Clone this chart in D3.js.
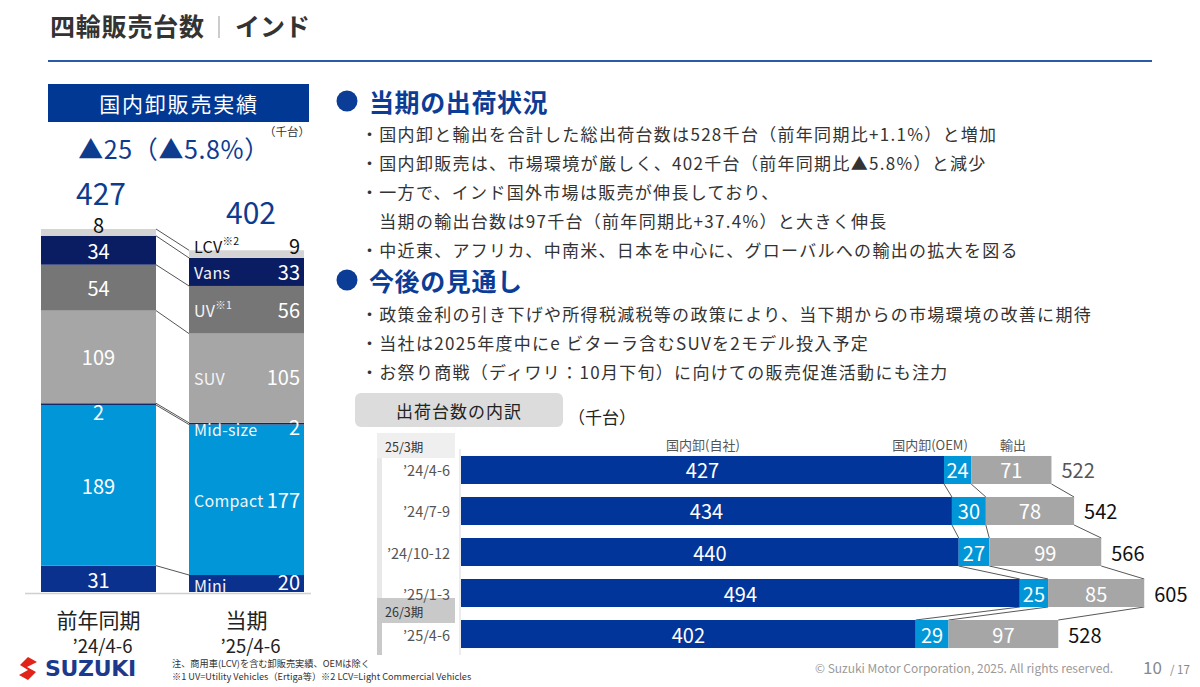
<!DOCTYPE html>
<html>
<head>
<meta charset="utf-8">
<script src="https://cdn.jsdelivr.net/npm/d3@7"></script>
<style>
  html, body { margin: 0; padding: 0; background: #fff; }
  svg { display: block; font-family: "Noto Sans CJK JP", "Noto Sans", sans-serif; }
</style>
</head>
<body>
<svg id="slide" width="1200" height="687"></svg>
<script>
// ---- data ----
var segNames  = ["Mini", "Compact", "Mid-size", "SUV", "UV", "Vans", "LCV"];
var segSup    = ["", "", "", "", "※1", "", "※2"];
var prevVals  = [31, 189, 2, 109, 54, 34, 8];
var currVals  = [20, 177, 2, 105, 56, 33, 9];
var segColors = ["#0b318e", "#0096d8", "#0c2566", "#a6a6a6", "#767676", "#0a1d63", "#d4d4d4"];
var periods   = ["前年同期", "当期"];
var periodSub = ["’24/4-6", "’25/4-6"];
var barTotals = [427, 402];

var quarters  = ["’24/4-6", "’24/7-9", "’24/10-12", "’25/1-3", "’25/4-6"];
var domOwn    = [427, 434, 440, 494, 402];
var domOem    = [24, 30, 27, 25, 29];
var exportVal = [71, 78, 99, 85, 97];
var shipTotal = [522, 542, 566, 605, 528];
var shipSeries = ["国内卸(自社)", "国内卸(OEM)", "輸出"];
var shipColors = ["#02359a", "#0096d8", "#a6a6a6"];

var bullets1 = [
  "・国内卸と輸出を合計した総出荷台数は528千台（前年同期比+1.1%）と増加",
  "・国内卸販売は、市場環境が厳しく、402千台（前年同期比▲5.8%）と減少",
  "・一方で、インド国外市場は販売が伸長しており、",
  "　当期の輸出台数は97千台（前年同期比+37.4%）と大きく伸長",
  "・中近東、アフリカ、中南米、日本を中心に、グローバルへの輸出の拡大を図る"
];
var bullets2 = [
  "・政策金利の引き下げや所得税減税等の政策により、当下期からの市場環境の改善に期待",
  "・当社は2025年度中にe ビターラ含むSUVを2モデル投入予定",
  "・お祭り商戦（ディワリ：10月下旬）に向けての販売促進活動にも注力"
];

var svg = d3.select("#slide");
var BLUE = "#0d3c8f";

// ---- title ----
svg.append("text").attr("x", 50).attr("y", 36).attr("font-size", 25).attr("font-weight", 700)
  .attr("letter-spacing", 0.8).attr("fill", "#333").text("四輪販売台数");
svg.append("line").attr("x1", 219).attr("x2", 219).attr("y1", 16).attr("y2", 38)
  .attr("stroke", "#999").attr("stroke-width", 1);
svg.append("text").attr("x", 235).attr("y", 36).attr("font-size", 25).attr("font-weight", 700)
  .attr("fill", "#333").text("インド");
svg.append("line").attr("x1", 48).attr("x2", 1152).attr("y1", 61).attr("y2", 61)
  .attr("stroke", "#2b5aa8").attr("stroke-width", 2);

// ---- left panel header ----
svg.append("rect").attr("x", 48).attr("y", 84).attr("width", 261).attr("height", 38).attr("fill", "#003894");
svg.append("text").attr("x", 179).attr("y", 103).attr("text-anchor", "middle").attr("dominant-baseline", "central")
  .attr("font-size", 21).attr("letter-spacing", 1.8).attr("fill", "#fff").text("国内卸販売実績");
svg.append("text").attr("x", 174).attr("y", 148).attr("text-anchor", "middle").attr("dominant-baseline", "central")
  .attr("font-size", 25).attr("letter-spacing", 0.6).attr("fill", BLUE).text("▲25（▲5.8%）");
svg.append("text").attr("x", 264).attr("y", 131).attr("dominant-baseline", "central")
  .attr("font-size", 11.5).attr("fill", "#333").text("（千台）");

// ---- left stacked bars ----
var yL = d3.scaleLinear().domain([0, 427]).range([592, 229]);
var barX = [41, 189], barW = 115;
var stacks = [prevVals, currVals].map(function(v) {
  var c = 0;
  return v.map(function(d, i) { var s = { i: i, v: d, y0: c, y1: c + d }; c += d; return s; });
});

var gL = svg.append("g");
stacks.forEach(function(st, b) {
  gL.selectAll(null).data(st).enter().append("rect")
    .attr("x", barX[b]).attr("width", barW)
    .attr("y", function(d) { return yL(d.y1); })
    .attr("height", function(d) { return yL(d.y0) - yL(d.y1); })
    .attr("fill", function(d) { return segColors[d.i]; });
});

// connectors between the two bars
var bounds = d3.range(segNames.length).map(function(i) { return [stacks[0][i].y1, stacks[1][i].y1]; });
gL.selectAll(null).data(bounds).enter().append("line")
  .attr("x1", barX[0] + barW).attr("x2", barX[1])
  .attr("y1", function(d) { return yL(d[0]); }).attr("y2", function(d) { return yL(d[1]); })
  .attr("stroke", "#555").attr("stroke-width", 1);

svg.append("line").attr("x1", 25).attr("x2", 311).attr("y1", 593.5).attr("y2", 593.5)
  .attr("stroke", "#d0d0d0").attr("stroke-width", 1.5);

// previous year labels (centered)
var dyPrev = [1, 0, 7, 0, 0, 0, -7];
gL.selectAll(null).data(stacks[0]).enter().append("text")
  .attr("x", barX[0] + barW / 2)
  .attr("y", function(d) { return d.i === 6 ? yL(d.y1) - 5 : (yL(d.y0) + yL(d.y1)) / 2 + dyPrev[d.i]; })
  .attr("text-anchor", "middle").attr("dominant-baseline", "central")
  .attr("font-size", 20).attr("fill", function(d) { return d.i === 6 ? "#111" : "#fff"; })
  .text(function(d) { return d.v; });

// current period labels (name left, value right)
var dyCurr = [-2, 0, 3, -2, 0, 0, -9];
var dyCurrName = [2, 0, 5, 0, 0, 0, -8];
gL.selectAll(null).data(stacks[1]).enter().append("text")
  .attr("x", barX[1] + barW - 4)
  .attr("y", function(d) { return (yL(d.y0) + yL(d.y1)) / 2 + dyCurr[d.i]; })
  .attr("text-anchor", "end").attr("dominant-baseline", "central")
  .attr("font-size", 20).attr("fill", function(d) { return d.i === 6 ? "#111" : "#fff"; })
  .text(function(d) { return d.v; });
var nameT = gL.selectAll(null).data(stacks[1]).enter().append("text")
  .attr("x", barX[1] + 5)
  .attr("y", function(d) { return (yL(d.y0) + yL(d.y1)) / 2 + dyCurrName[d.i]; })
  .attr("dominant-baseline", "central").attr("letter-spacing", 0.3)
  .attr("font-size", 16).attr("fill", function(d) { return d.i === 6 ? "#111" : "#f4f4f4"; });
nameT.append("tspan").text(function(d) { return segNames[d.i]; });
nameT.append("tspan").attr("font-size", 10.5).attr("dy", -6).text(function(d) { return segSup[d.i]; });

// totals and period labels
gL.selectAll(null).data(barTotals).enter().append("text")
  .attr("x", function(d, i) { return i === 0 ? 101 : 251; })
  .attr("y", function(d, i) { return i === 0 ? 192 : 211; })
  .attr("text-anchor", "middle").attr("dominant-baseline", "central")
  .attr("font-size", 30).attr("fill", BLUE).text(function(d) { return d; });
gL.selectAll(null).data(periods).enter().append("text")
  .attr("x", function(d, i) { return barX[i] + barW / 2; }).attr("y", 619)
  .attr("text-anchor", "middle").attr("dominant-baseline", "central")
  .attr("font-size", 21).attr("fill", "#222").text(function(d) { return d; });
gL.selectAll(null).data(periodSub).enter().append("text")
  .attr("x", function(d, i) { return barX[i] + barW / 2 + 4; }).attr("y", 645)
  .attr("text-anchor", "middle").attr("dominant-baseline", "central")
  .attr("font-size", 18.5).attr("fill", "#222").text(function(d) { return d; });

// ---- right text block ----
function heading(y, txt) {
  svg.append("circle").attr("cx", 347).attr("cy", y).attr("r", 10.5).attr("fill", "#0b3d96");
  svg.append("text").attr("x", 369).attr("y", y).attr("dominant-baseline", "central")
    .attr("font-size", 25).attr("font-weight", 700).attr("letter-spacing", 0.6)
    .attr("fill", "#0b3d96").text(txt);
}
heading(101, "当期の出荷状況");
heading(280, "今後の見通し");
svg.selectAll(null).data(bullets1).enter().append("text")
  .attr("x", 361).attr("y", function(d, i) { return 133 + i * 29; })
  .attr("dominant-baseline", "central").attr("font-size", 17).attr("letter-spacing", 1.3)
  .attr("fill", "#333").text(function(d) { return d; });
svg.selectAll(null).data(bullets2).enter().append("text")
  .attr("x", 361).attr("y", function(d, i) { return 313 + i * 29; })
  .attr("dominant-baseline", "central").attr("font-size", 17).attr("letter-spacing", 1.3)
  .attr("fill", "#333").text(function(d) { return d; });

// ---- shipment breakdown ----
svg.append("rect").attr("x", 355).attr("y", 393).attr("width", 208).attr("height", 34).attr("rx", 6).attr("fill", "#dcdcdc");
svg.append("text").attr("x", 459).attr("y", 410).attr("text-anchor", "middle").attr("dominant-baseline", "central")
  .attr("font-size", 17).attr("letter-spacing", 1).attr("fill", "#222").text("出荷台数の内訳");
svg.append("text").attr("x", 568).attr("y", 416).attr("dominant-baseline", "central")
  .attr("font-size", 17).attr("fill", "#222").text("（千台）");

var x = d3.scaleLinear().domain([0, 427]).range([461, 944]);
var y = d3.scaleBand().domain(quarters).range([449.5, 654.5]).paddingInner(0.317).paddingOuter(0.158);

// fiscal-year side panel
svg.append("rect").attr("x", 377).attr("y", 458).attr("width", 5).attr("height", 140).attr("fill", "#e8e8e8");
svg.append("rect").attr("x", 377).attr("y", 623).attr("width", 5).attr("height", 32).attr("fill", "#c9c9c9");
svg.append("rect").attr("x", 377).attr("y", 433).attr("width", 78).attr("height", 25).attr("fill", "#efefef");
svg.append("rect").attr("x", 377).attr("y", 598).attr("width", 78).attr("height", 25).attr("fill", "#c9c9c9");
svg.append("text").attr("x", 385).attr("y", 446).attr("dominant-baseline", "central").attr("font-size", 12.5)
  .attr("fill", "#333").text("25/3期");
svg.append("text").attr("x", 385).attr("y", 611).attr("dominant-baseline", "central").attr("font-size", 12.5)
  .attr("fill", "#333").text("26/3期");
svg.append("line").attr("x1", 460).attr("x2", 460).attr("y1", 449).attr("y2", 655)
  .attr("stroke", "#d8d8d8").attr("stroke-width", 1);

// row labels
svg.selectAll(null).data(quarters).enter().append("text")
  .attr("x", 450).attr("y", function(d) { return y(d) + y.bandwidth() / 2; })
  .attr("text-anchor", "end").attr("dominant-baseline", "central")
  .attr("font-size", 14.5).attr("fill", "#555").text(function(d) { return d; });

// series headers
var hdrX = [703, 930, 1013];
svg.selectAll(null).data(shipSeries).enter().append("text")
  .attr("x", function(d, i) { return hdrX[i]; }).attr("y", 444)
  .attr("text-anchor", "middle").attr("dominant-baseline", "central")
  .attr("font-size", 13).attr("fill", "#555").text(function(d) { return d; });

var rows = quarters.map(function(q, i) {
  var a = domOwn[i], b = domOem[i], c = exportVal[i];
  return { q: q, total: shipTotal[i], segs: [
    { s: 0, v: a, x0: 0, x1: a },
    { s: 1, v: b, x0: a, x1: a + b },
    { s: 2, v: c, x0: a + b, x1: a + b + c }
  ] };
});

// connectors between rows
var links = [];
for (var r = 0; r < rows.length - 1; r++) {
  for (var k = 0; k < 3; k++) {
    links.push({ a: rows[r].segs[k].x1, b: rows[r + 1].segs[k].x1, qa: rows[r].q, qb: rows[r + 1].q });
  }
}
svg.selectAll(null).data(links).enter().append("line")
  .attr("x1", function(d) { return x(d.a); }).attr("y1", function(d) { return y(d.qa) + y.bandwidth(); })
  .attr("x2", function(d) { return x(d.b); }).attr("y2", function(d) { return y(d.qb); })
  .attr("stroke", "#444").attr("stroke-width", 0.9);

var rowG = svg.selectAll(null).data(rows).enter().append("g");
rowG.selectAll("rect").data(function(d) { return d.segs.map(function(s) { s.q = d.q; return s; }); })
  .enter().append("rect")
  .attr("x", function(d) { return x(d.x0); })
  .attr("width", function(d) { return x(d.x1) - x(d.x0); })
  .attr("y", function(d) { return y(d.q); }).attr("height", y.bandwidth())
  .attr("fill", function(d) { return shipColors[d.s]; });
rowG.selectAll("text.v").data(function(d) { return d.segs; })
  .enter().append("text")
  .attr("x", function(d) { return (x(d.x0) + x(d.x1)) / 2; })
  .attr("y", function(d) { return y(d.q) + y.bandwidth() / 2; })
  .attr("text-anchor", "middle").attr("dominant-baseline", "central")
  .attr("font-size", 20).attr("fill", "#fff").text(function(d) { return d.v; });
rowG.append("text")
  .attr("x", function(d) { return x(d.segs[2].x1) + 10; })
  .attr("y", function(d) { return y(d.q) + y.bandwidth() / 2; })
  .attr("dominant-baseline", "central").attr("font-size", 20)
  .attr("fill", function(d, i) { return i === 0 ? "#555" : "#111"; })
  .text(function(d) { return d.total; });

// ---- footer ----
var logo = svg.append("g");
logo.append("path").attr("d", "M28,657 L37,662 L27,667 L36,672 L28,680 L19,675 L28,670 L20,665 Z")
  .attr("fill", "#e2231a");
logo.append("text").attr("x", 45).attr("y", 668).attr("dominant-baseline", "central")
  .attr("font-family", "'DejaVu Sans', sans-serif").attr("font-weight", 900).attr("font-size", 22)
  .attr("letter-spacing", -0.3).attr("fill", "#1b3a8e").text("SUZUKI");
svg.append("text").attr("x", 172).attr("y", 667).attr("font-size", 9.2).attr("fill", "#333")
  .text("注、商用車(LCV)を含む卸販売実績、OEMは除く");
svg.append("text").attr("x", 172).attr("y", 680).attr("font-size", 9.2).attr("fill", "#333")
  .text("※1 UV=Utility Vehicles（Ertiga等）※2 LCV=Light Commercial Vehicles");
svg.append("text").attr("x", 815).attr("y", 673).attr("font-size", 12).attr("fill", "#9a9a9a")
  .text("© Suzuki Motor Corporation, 2025. All rights reserved.");
svg.append("text").attr("x", 1143).attr("y", 674).attr("font-size", 17).attr("fill", "#888").text("10");
svg.append("text").attr("x", 1170).attr("y", 674).attr("font-size", 11.5).attr("fill", "#888").text("/ 17");
</script>
</body>
</html>
